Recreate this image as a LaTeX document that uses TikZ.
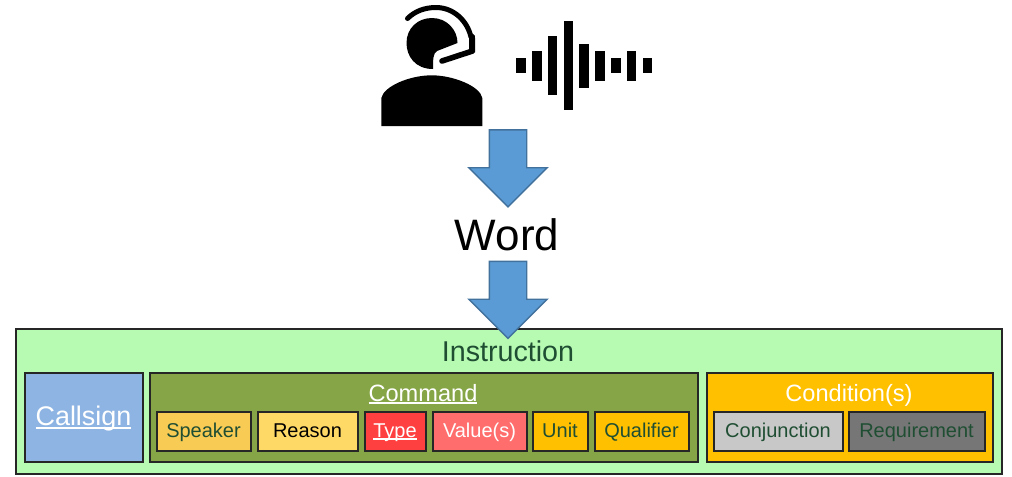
\documentclass[tikz,border=0pt]{standalone}
\usepackage{fontspec}
\setmainfont{Liberation Sans}
\usetikzlibrary{shapes.arrows}

\definecolor{darktext}{HTML}{1F4E33}
\definecolor{arrowfill}{HTML}{5B9BD5}
\definecolor{arrowedge}{HTML}{41719C}
\definecolor{instructiongreen}{HTML}{B7FBB3}
\definecolor{callsignblue}{HTML}{8EB4E3}
\definecolor{commandgreen}{HTML}{86A546}
\definecolor{unitgold}{HTML}{FFC000}
\definecolor{speakergold}{HTML}{F8CB55}
\definecolor{reasongold}{HTML}{FFD966}
\definecolor{typered}{HTML}{FF4040}
\definecolor{valuered}{HTML}{FF6D6D}
\definecolor{conjgrey}{HTML}{C8C8C8}
\definecolor{reqgrey}{HTML}{767676}
\def\u{0.75pt}
\newcommand{\ulabel}[1]{\setbox0\hbox{#1}\rlap{\rule[-2pt]{\wd0}{1pt}}\box0}

\begin{document}
\begin{tikzpicture}
	[
		x=0.75pt, y=-0.75pt,
		tile/.style = {shape=rectangle, draw=black!85, line width=1.5pt, anchor=north west, inner sep=0pt, outer sep=0pt, align=center, xshift=0.5*\u, yshift=-0.5*\u},
		subtile/.style = {tile, minimum height=39*\u, text height=12pt, text depth=3pt, font=\fontsize{15}{18}\selectfont},
		headlabel/.style = {anchor=base, text=white, font=\fontsize{17.7}{21}\selectfont},
		blockarrow/.style = {shape=single arrow, draw=arrowedge, fill=arrowfill, line width=1pt, minimum width=77*\u, minimum height=77*\u, single arrow head extend=20.5*\u, single arrow head indent=0pt, inner sep=18*\u, outer sep=0pt, shape border rotate=270}
	]
	
	\useasboundingbox (0, 0) rectangle (1012, 476);
	
	% headset
	\fill (381.3, 126) -- (381.3, 98) .. controls (384, 86) and (410, 75.3) .. (431.7, 75.3) .. controls (453, 75.3) and (480, 86) .. (482.3, 98) -- (482.3, 126) -- cycle;
	\fill (433, 69) .. controls (415, 69) and (406.5, 56) .. (406.5, 43) .. controls (406.5, 28) and (418, 18) .. (432, 18) .. controls (447, 18) and (457.5, 30) .. (457.5, 43) -- (437, 51) .. controls (433, 53) and (433, 60) .. (433, 69) -- cycle;
	\draw [line width=3.75pt, line cap=round] (407.5, 18.5) .. controls (415, 11) and (425, 7.5) .. (436, 7.5) .. controls (453, 7.5) and (467, 20) .. (471, 37);
	\fill (469, 33) -- (473, 34) .. controls (475, 35) and (475, 36) .. (475, 38) -- (475, 50) -- (469, 53) -- cycle;
	\draw [line width=4.2pt, line cap=round] (442, 61) -- (472.5, 51);
	
	% sound wave
	\foreach \i/\h in {0/7.3, 1/14.8, 2/29.7, 3/44.3, 4/22.2, 5/14.8, 6/7.3, 7/14.8, 8/7.3}
		\fill ({521 + 15.8*\i - 4.8}, {65.7 - \h}) rectangle ({521 + 15.8*\i + 4.8}, {65.7 + \h});
	
	\node [blockarrow] (voicearrow) at (508, 159) {};
	\node [anchor=base, font=\fontsize{33}{38}\selectfont] (word) at (507, 250) {Word};
	
	\node [tile, fill=instructiongreen, minimum width=986*\u, minimum height=145*\u] (instruction) at (15, 328) {};
	\node [blockarrow] (wordarrow) at (508, 290.5) {};
	\node [anchor=base, text=darktext, font=\fontsize{21.5}{26}\selectfont] (instructionlabel) at (508, 361) {Instruction};
	
	\node [tile, fill=callsignblue, minimum width=118*\u, minimum height=89*\u, text height=16pt, text depth=2.6pt, text=white, font=\fontsize{20.2}{24}\selectfont] (callsign) at (24, 372) {\ulabel{Callsign}};
	\node [tile, fill=commandgreen, minimum width=548*\u, minimum height=89*\u] (command) at (149, 372) {};
	\node [tile, fill=unitgold, minimum width=286*\u, minimum height=89*\u] (condition) at (706, 372) {};
	
	\node [headlabel] (commandlabel) at (423, 401) {\ulabel{Command}};
	\node [headlabel] (conditionlabel) at (849, 401) {Condition(s)};
	
	\node [subtile, fill=speakergold, minimum width=94*\u, text=darktext] (speaker) at (156, 411) {Speaker};
	\node [subtile, fill=reasongold, minimum width=100*\u] (reason) at (257, 411) {Reason};
	\node [subtile, fill=typered, minimum width=61*\u, text=white] (type) at (364, 411) {\ulabel{Type}};
	\node [subtile, fill=valuered, minimum width=94*\u, text=white] (value) at (432, 411) {Value(s)};
	\node [subtile, fill=unitgold, minimum width=55*\u, text=darktext] (unit) at (532, 411) {Unit};
	\node [subtile, fill=unitgold, minimum width=94*\u, text=darktext] (qualifier) at (594, 411) {Qualifier};
	\node [subtile, fill=conjgrey, minimum width=129*\u, text=darktext] (conjunction) at (713, 411) {Conjunction};
	\node [subtile, fill=reqgrey, minimum width=136*\u, text=darktext] (requirement) at (848, 411) {Requirement};
\end{tikzpicture}
\end{document}
